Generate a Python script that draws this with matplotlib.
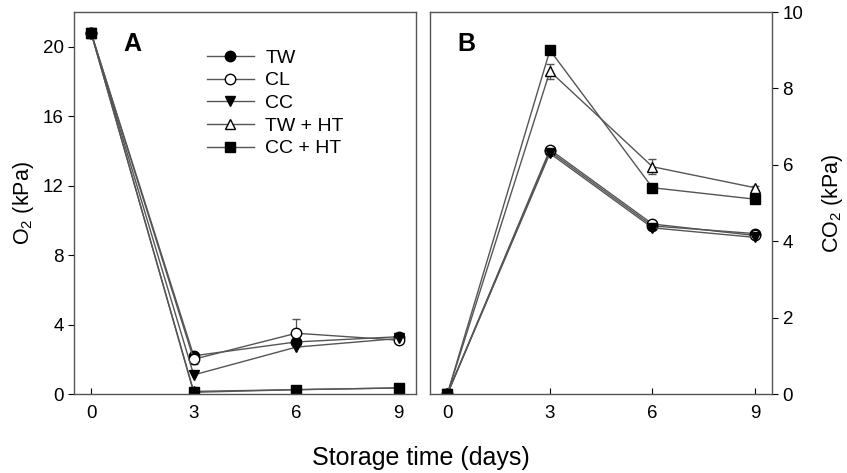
#!/usr/bin/env python3
import matplotlib
matplotlib.use("Agg")
import matplotlib.pyplot as plt
import numpy as np

plt.rcParams["font.family"] = ["Liberation Sans", "DejaVu Sans"]
plt.rcParams["mathtext.fontset"] = "custom"
plt.rcParams["mathtext.rm"] = "Liberation Sans"

days = [0, 3, 6, 9]
treatments = ["TW", "CL", "CC", "TW + HT", "CC + HT"]
markers = ["o", "o", "v", "^", "s"]
faces = ["black", "white", "black", "white", "black"]

# O2 partial pressure (kPa)
o2_tw = [20.8, 2.2, 3.0, 3.3]
o2_cl = [20.8, 2.0, 3.5, 3.1]
o2_cc = [20.8, 1.1, 2.7, 3.2]
o2_twht = [20.8, 0.15, 0.25, 0.35]
o2_ccht = [20.8, 0.1, 0.25, 0.35]
o2_err_cl = [0.0, 0.3, 0.8, 0.1]

# CO2 partial pressure (kPa)
co2_tw = [0.0, 6.35, 4.4, 4.2]
co2_cl = [0.0, 6.4, 4.45, 4.15]
co2_cc = [0.0, 6.3, 4.35, 4.1]
co2_twht = [0.0, 8.45, 5.95, 5.4]
co2_ccht = [0.0, 9.0, 5.4, 5.1]
co2_err_twht = [0.0, 0.2, 0.2, 0.05]


def draw(ax, series, errs):
    """ Draw every treatment as a line with markers and optional error bars """
    handles = []
    for i, y in enumerate(series):
        h = ax.errorbar(days, y, yerr=errs.get(i), marker=markers[i], ms=7.5,
                        mfc=faces[i], mec="black", mew=1.0, color="#555555",
                        lw=1.0, ecolor="#555555", elinewidth=0.9, capsize=3)
        handles.append(h[0])
    return handles


fig = plt.figure(figsize=(8.47, 4.73), dpi=100)
ax1 = fig.add_axes([0.0874, 0.167, 0.4036, 0.8076])
ax2 = fig.add_axes([0.508, 0.167, 0.4036, 0.8076])

h = draw(ax1, [o2_tw, o2_cl, o2_cc, o2_twht, o2_ccht], {1: o2_err_cl})
draw(ax2, [co2_tw, co2_cl, co2_cc, co2_twht, co2_ccht], {3: co2_err_twht})

for ax in (ax1, ax2):
    ax.set_xlim(-0.5, 9.5)
    ax.set_xticks(days)
    ax.tick_params(axis="x", direction="in", length=4, labelsize=13.5, pad=8)
    ax.tick_params(axis="y", direction="out", length=4, labelsize=13.5)
    for s in ax.spines.values():
        s.set_color("#555555")
        s.set_linewidth(1.0)

ax1.set_ylim(0, 22)
ax1.set_yticks([0, 4, 8, 12, 16, 20])
ax1.set_ylabel("O$_2$ (kPa)", fontsize=15.5, labelpad=5)

ax2.set_ylim(0, 10)
ax2.set_yticks([0, 2, 4, 6, 8, 10])
ax2.yaxis.tick_right()
ax2.yaxis.set_label_position("right")
ax2.set_ylabel("CO$_2$ (kPa)", fontsize=15.5, labelpad=12, rotation=90)

ax1.text(0.143, 0.916, "A", transform=ax1.transAxes, fontsize=18,
         fontweight="bold", va="center")
ax2.text(0.079, 0.916, "B", transform=ax2.transAxes, fontsize=18,
         fontweight="bold", va="center")

ax1.legend(h, treatments, loc="upper left", bbox_to_anchor=(0.389, 0.903),
           frameon=False, fontsize=14, handlelength=2.4, labelspacing=0.26,
           handletextpad=0.6, borderpad=0, borderaxespad=0)

fig.text(0.497, 0.032, "Storage time (days)", ha="center", va="center",
         fontsize=18)

fig.savefig("out.png", dpi=100)
